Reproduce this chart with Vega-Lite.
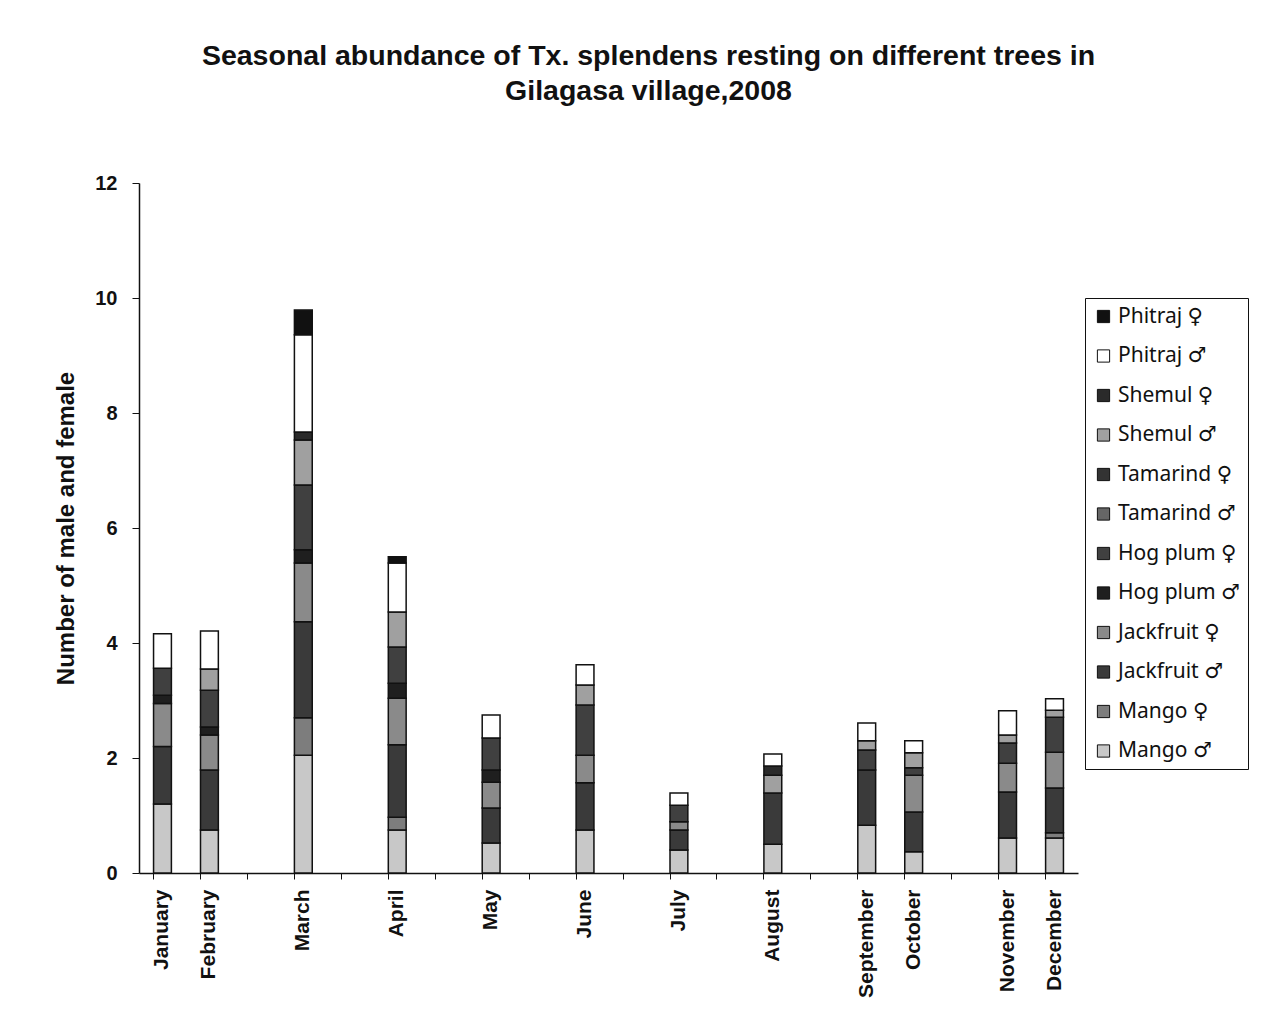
{
  "$schema": "https://vega.github.io/schema/vega-lite/v6.json",
  "autosize": {"type": "none"},
  "padding": {"left": 139, "top": 183, "right": 186, "bottom": 152},
  "width": 939,
  "height": 690,
  "background": "white",
  "title": {
    "text": ["Seasonal abundance of Tx. splendens resting on different trees in", "Gilagasa village,2008"],
    "font": "Liberation Sans",
    "fontSize": 28.5,
    "fontWeight": "bold",
    "color": "#111",
    "lineHeight": 35,
    "anchor": "middle",
    "frame": "group",
    "dx": 40,
    "offset": 68
  },
  "data": {
    "values": [
      {"month": "January", "series": "Mango ♂", "value": 1.2},
      {"month": "January", "series": "Jackfruit ♂", "value": 1.0},
      {"month": "January", "series": "Jackfruit ♀", "value": 0.75},
      {"month": "January", "series": "Hog plum ♂", "value": 0.14},
      {"month": "January", "series": "Hog plum ♀", "value": 0.47},
      {"month": "January", "series": "Phitraj ♂", "value": 0.6},

      {"month": "February", "series": "Mango ♂", "value": 0.75},
      {"month": "February", "series": "Jackfruit ♂", "value": 1.04},
      {"month": "February", "series": "Jackfruit ♀", "value": 0.61},
      {"month": "February", "series": "Hog plum ♂", "value": 0.14},
      {"month": "February", "series": "Hog plum ♀", "value": 0.64},
      {"month": "February", "series": "Shemul ♂", "value": 0.37},
      {"month": "February", "series": "Phitraj ♂", "value": 0.66},

      {"month": "March", "series": "Mango ♂", "value": 2.05},
      {"month": "March", "series": "Mango ♀", "value": 0.65},
      {"month": "March", "series": "Jackfruit ♂", "value": 1.67},
      {"month": "March", "series": "Jackfruit ♀", "value": 1.02},
      {"month": "March", "series": "Hog plum ♂", "value": 0.23},
      {"month": "March", "series": "Hog plum ♀", "value": 1.13},
      {"month": "March", "series": "Shemul ♂", "value": 0.78},
      {"month": "March", "series": "Shemul ♀", "value": 0.14},
      {"month": "March", "series": "Phitraj ♂", "value": 1.69},
      {"month": "March", "series": "Phitraj ♀", "value": 0.43},

      {"month": "April", "series": "Mango ♂", "value": 0.75},
      {"month": "April", "series": "Mango ♀", "value": 0.22},
      {"month": "April", "series": "Jackfruit ♂", "value": 1.26},
      {"month": "April", "series": "Jackfruit ♀", "value": 0.81},
      {"month": "April", "series": "Hog plum ♂", "value": 0.26},
      {"month": "April", "series": "Hog plum ♀", "value": 0.63},
      {"month": "April", "series": "Shemul ♂", "value": 0.61},
      {"month": "April", "series": "Phitraj ♂", "value": 0.85},
      {"month": "April", "series": "Phitraj ♀", "value": 0.11},

      {"month": "May", "series": "Mango ♂", "value": 0.52},
      {"month": "May", "series": "Jackfruit ♂", "value": 0.61},
      {"month": "May", "series": "Jackfruit ♀", "value": 0.45},
      {"month": "May", "series": "Hog plum ♂", "value": 0.21},
      {"month": "May", "series": "Hog plum ♀", "value": 0.56},
      {"month": "May", "series": "Phitraj ♂", "value": 0.4},

      {"month": "June", "series": "Mango ♂", "value": 0.75},
      {"month": "June", "series": "Jackfruit ♂", "value": 0.82},
      {"month": "June", "series": "Jackfruit ♀", "value": 0.48},
      {"month": "June", "series": "Hog plum ♀", "value": 0.87},
      {"month": "June", "series": "Shemul ♂", "value": 0.35},
      {"month": "June", "series": "Phitraj ♂", "value": 0.35},

      {"month": "July", "series": "Mango ♂", "value": 0.4},
      {"month": "July", "series": "Jackfruit ♂", "value": 0.35},
      {"month": "July", "series": "Jackfruit ♀", "value": 0.14},
      {"month": "July", "series": "Hog plum ♀", "value": 0.29},
      {"month": "July", "series": "Phitraj ♂", "value": 0.21},

      {"month": "August", "series": "Mango ♂", "value": 0.5},
      {"month": "August", "series": "Jackfruit ♂", "value": 0.89},
      {"month": "August", "series": "Shemul ♂", "value": 0.31},
      {"month": "August", "series": "Shemul ♀", "value": 0.16},
      {"month": "August", "series": "Phitraj ♂", "value": 0.21},

      {"month": "September", "series": "Mango ♂", "value": 0.83},
      {"month": "September", "series": "Jackfruit ♂", "value": 0.96},
      {"month": "September", "series": "Hog plum ♀", "value": 0.35},
      {"month": "September", "series": "Shemul ♂", "value": 0.16},
      {"month": "September", "series": "Phitraj ♂", "value": 0.31},

      {"month": "October", "series": "Mango ♂", "value": 0.37},
      {"month": "October", "series": "Jackfruit ♂", "value": 0.69},
      {"month": "October", "series": "Jackfruit ♀", "value": 0.64},
      {"month": "October", "series": "Hog plum ♀", "value": 0.13},
      {"month": "October", "series": "Shemul ♂", "value": 0.26},
      {"month": "October", "series": "Phitraj ♂", "value": 0.21},

      {"month": "November", "series": "Mango ♂", "value": 0.61},
      {"month": "November", "series": "Jackfruit ♂", "value": 0.8},
      {"month": "November", "series": "Jackfruit ♀", "value": 0.5},
      {"month": "November", "series": "Hog plum ♀", "value": 0.35},
      {"month": "November", "series": "Shemul ♂", "value": 0.14},
      {"month": "November", "series": "Phitraj ♂", "value": 0.42},

      {"month": "December", "series": "Mango ♂", "value": 0.61},
      {"month": "December", "series": "Mango ♀", "value": 0.09},
      {"month": "December", "series": "Jackfruit ♂", "value": 0.78},
      {"month": "December", "series": "Jackfruit ♀", "value": 0.62},
      {"month": "December", "series": "Hog plum ♀", "value": 0.61},
      {"month": "December", "series": "Shemul ♂", "value": 0.12},
      {"month": "December", "series": "Phitraj ♂", "value": 0.2}
    ]
  },
  "transform": [
    {"calculate": "indexof(['Mango ♂', 'Mango ♀', 'Jackfruit ♂', 'Jackfruit ♀', 'Hog plum ♂', 'Hog plum ♀', 'Tamarind ♂', 'Tamarind ♀', 'Shemul ♂', 'Shemul ♀', 'Phitraj ♂', 'Phitraj ♀'], datum.series)", "as": "stackKey"}
  ],
  "mark": {"type": "bar", "stroke": "#111", "strokeWidth": 1.5},
  "encoding": {
    "x": {
      "field": "month",
      "type": "nominal",
      "scale": {
        "domain": ["January", "February", " ", "March", "  ", "April", "   ", "May", "    ", "June", "     ", "July", "      ", "August", "       ", "September", "October", "        ", "November", "December"],
        "paddingInner": 0.62,
        "paddingOuter": 0.31
      },
      "axis": {
        "title": null,
        "labelAngle": 270,
        "labelAlign": "right",
        "labelBaseline": "middle",
        "labelFont": "Liberation Sans",
        "labelFontSize": 21,
        "labelFontWeight": "bold",
        "labelColor": "#111",
        "labelPadding": 10,
        "bandPosition": 0,
        "tickSize": 6,
        "tickColor": "#111",
        "domainColor": "#111",
        "domainWidth": 1.5,
        "labelOverlap": false,
        "labelBound": false
      }
    },
    "y": {
      "field": "value",
      "type": "quantitative",
      "stack": "zero",
      "scale": {"domain": [0, 12], "nice": false},
      "axis": {
        "title": "Number of male and female",
        "titleFont": "Liberation Sans",
        "titleFontSize": 24,
        "titleFontWeight": "bold",
        "titleColor": "#111",
        "titlePadding": 16,
        "values": [0, 2, 4, 6, 8, 10, 12],
        "grid": false,
        "labelFont": "Liberation Sans",
        "labelFontSize": 20,
        "labelFontWeight": "bold",
        "labelColor": "#111",
        "labelPadding": 15,
        "tickSize": 7,
        "tickColor": "#111",
        "domainColor": "#111",
        "domainWidth": 1.5
      }
    },
    "order": {"field": "stackKey", "type": "quantitative", "sort": "ascending"},
    "color": {
      "field": "series",
      "type": "nominal",
      "scale": {
        "domain": ["Phitraj ♀", "Phitraj ♂", "Shemul ♀", "Shemul ♂", "Tamarind ♀", "Tamarind ♂", "Hog plum ♀", "Hog plum ♂", "Jackfruit ♀", "Jackfruit ♂", "Mango ♀", "Mango ♂"],
        "range": ["#111111", "#ffffff", "#2a2a2a", "#a0a0a0", "#333333", "#666666", "#404040", "#1f1f1f", "#8a8a8a", "#3a3a3a", "#7d7d7d", "#c8c8c8"]
      },
      "legend": {
        "title": null,
        "orient": "none",
        "legendX": 946,
        "legendY": 115,
        "symbolType": "square",
        "symbolSize": 150,
        "symbolStrokeColor": "#111",
        "symbolStrokeWidth": 1,
        "labelFont": "Noto Sans, DejaVu Sans",
        "labelFontSize": 21,
        "labelColor": "#111",
        "labelLimit": 200,
        "rowPadding": 17.5,
        "strokeColor": "#111",
        "padding": 8,
        "fillColor": "white"
      }
    }
  },
  "config": {
    "view": {"stroke": null}
  }
}
